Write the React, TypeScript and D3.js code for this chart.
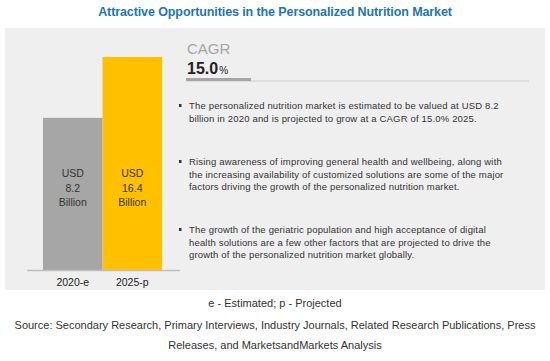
import React from "react";
import * as d3 from "d3";

const categories = ["2020-e", "2025-p"];
const values = [8.2, 16.4];
const barLabels = [["USD", "8.2", "Billion"], ["USD", "16.4", "Billion"]];
const barColors = ["#a6a6a6", "#ffc000"];
const title = "Attractive Opportunities in the Personalized Nutrition Market";
const cagrLabel = "CAGR";
const cagrValue = "15.0";
const bullets = [
  [
    "The personalized nutrition market is estimated to be valued at USD 8.2",
    "billion in 2020 and is projected to grow at a CAGR of 15.0% 2025.",
  ],
  [
    "Rising awareness of improving general health and wellbeing, along with",
    "the increasing availability of customized solutions are some of the  major",
    "factors driving the growth of the personalized nutrition market.",
  ],
  [
    "The growth of the geriatric population and high acceptance of digital",
    "health solutions are a few other factors that are projected to drive the",
    "growth of the personalized nutrition market globally.",
  ],
];
const footnotes = [
  "e - Estimated; p - Projected",
  "Source: Secondary Research, Primary Interviews, Industry Journals, Related Research Publications, Press",
  "Releases, and MarketsandMarkets Analysis",
];

export default function App() {
  const W = 550, H = 361;
  const x = d3.scaleBand<string>().domain(categories).range([43, 162]).padding(0);
  // Bars in the original are not drawn from zero; axis floor is offset
  const y = d3.scaleLinear().domain([-12.3, 16.4]).range([270, 57]);
  const bulletTops = [106, 162, 230];
  const font = "'Liberation Sans', Arial, sans-serif";
  return (
    <svg width={W} height={H} style={{ position: "absolute", left: 0, top: 0, background: "#fff" }}
      fontFamily={font}>
      <rect x={0} y={0} width={W} height={H} fill="#ffffff" />
      <text x={275} y={16} textAnchor="middle" fill="#1b75bb" fontWeight="bold" fontSize={12.5}
        letterSpacing={-0.1}>{title}</text>
      <rect x={5} y={28} width={540} height={262} fill="#efefef" />
      {categories.map((c, i) => {
        const bx = x(c)!;
        const bw = x.bandwidth();
        const cx = bx + bw / 2;
        return (
          <g key={c}>
            <rect x={bx} y={y(values[i])} width={bw} height={y(-12.3) - y(values[i])} fill={barColors[i]} />
            {barLabels[i].map((t, j) => (
              <text key={j} x={cx} y={177 + j * 14.5} textAnchor="middle" fontSize={10.5} fill="#333">{t}</text>
            ))}
            <text x={cx} y={286} textAnchor="middle" fontSize={10.5} fill="#222">{c}</text>
          </g>
        );
      })}
      <line x1={27} x2={180} y1={270.5} y2={270.5} stroke="#bfbfbf" strokeWidth={1.5} />
      <text x={187} y={54} fontSize={15} fill="#a6a6a6">{cagrLabel}</text>
      <text x={187} y={74} fontSize={16} fontWeight="bold" fill="#222">{cagrValue}
        <tspan fontSize={10} fontWeight="normal" dx={1}>%</tspan></text>
      <line x1={186} x2={529} y1={81} y2={81} stroke="#cccccc" strokeWidth={1} />
      <line x1={186} x2={251} y1={79.5} y2={79.5} stroke="#a6a6a6" strokeWidth={3} />
      {bullets.map((lines, i) => (
        <g key={i}>
          <rect x={179} y={bulletTops[i] - 2} width={2.5} height={3} fill="#333" />
          {lines.map((l, j) => (
            <text key={j} x={189} y={bulletTops[i] + 3 + j * 12.5} fontSize={9.5} letterSpacing={0.17} fill="#333">{l}</text>
          ))}
        </g>
      ))}
      <text x={275} y={307} textAnchor="middle" fontSize={11} fill="#333">{footnotes[0]}</text>
      <text x={275} y={329} textAnchor="middle" fontSize={11} fill="#333">{footnotes[1]}</text>
      <text x={275} y={349} textAnchor="middle" fontSize={11} fill="#333">{footnotes[2]}</text>
    </svg>
  );
}
